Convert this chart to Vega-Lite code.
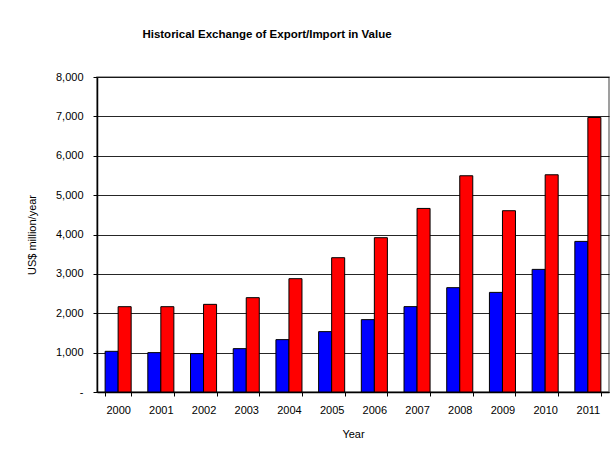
{
  "$schema": "https://vega.github.io/schema/vega-lite/v6.json",
  "width": 512,
  "height": 315,
  "autosize": {"type": "none"},
  "padding": {"left": 97, "top": 77, "right": 2, "bottom": 60},
  "background": "white",
  "title": {
    "text": "Historical Exchange of Export/Import in Value",
    "anchor": "middle",
    "dx": -86,
    "offset": 31,
    "font": "Liberation Sans",
    "fontSize": 11.5,
    "fontWeight": "bold",
    "color": "black"
  },
  "data": {
    "values": [
      {"year": "2000", "type": "Export", "value": 1033},
      {"year": "2000", "type": "Import", "value": 2167},
      {"year": "2001", "type": "Export", "value": 1000},
      {"year": "2001", "type": "Import", "value": 2167},
      {"year": "2002", "type": "Export", "value": 975},
      {"year": "2002", "type": "Import", "value": 2226},
      {"year": "2003", "type": "Export", "value": 1101},
      {"year": "2003", "type": "Import", "value": 2396},
      {"year": "2004", "type": "Export", "value": 1330},
      {"year": "2004", "type": "Import", "value": 2878},
      {"year": "2005", "type": "Export", "value": 1533},
      {"year": "2005", "type": "Import", "value": 3411},
      {"year": "2006", "type": "Export", "value": 1838},
      {"year": "2006", "type": "Import", "value": 3919},
      {"year": "2007", "type": "Export", "value": 2168},
      {"year": "2007", "type": "Import", "value": 4662},
      {"year": "2008", "type": "Export", "value": 2650},
      {"year": "2008", "type": "Import", "value": 5492},
      {"year": "2009", "type": "Export", "value": 2530},
      {"year": "2009", "type": "Import", "value": 4604},
      {"year": "2010", "type": "Export", "value": 3114},
      {"year": "2010", "type": "Import", "value": 5517},
      {"year": "2011", "type": "Export", "value": 3825},
      {"year": "2011", "type": "Import", "value": 6972}
    ]
  },
  "mark": {"type": "bar", "stroke": "black", "strokeWidth": 1},
  "encoding": {
    "x": {
      "field": "year",
      "type": "nominal",
      "title": "Year",
      "scale": {"paddingInner": 0.39, "paddingOuter": 0.19},
      "axis": {
        "labelAngle": 0,
        "labelFont": "Liberation Sans",
        "labelFontSize": 11,
        "labelColor": "black",
        "labelPadding": 8,
        "titleFont": "Liberation Sans",
        "titleFontSize": 11,
        "titleFontWeight": "normal",
        "titleColor": "black",
        "titlePadding": 13,
        "domainColor": "black",
        "domainWidth": 1.5,
        "tickColor": "black",
        "tickSize": 4,
        "tickBand": "extent",
        "grid": false
      }
    },
    "xOffset": {"field": "type", "type": "nominal", "scale": {"paddingInner": 0, "paddingOuter": 0}},
    "y": {
      "field": "value",
      "type": "quantitative",
      "title": "US$ million/year",
      "scale": {"domain": [0, 8000], "nice": false},
      "axis": {
        "values": [0, 1000, 2000, 3000, 4000, 5000, 6000, 7000, 8000],
        "labelExpr": "datum.value == 0 ? '-' : format(datum.value, ',')",
        "labelFont": "Liberation Sans",
        "labelFontSize": 11,
        "labelColor": "black",
        "labelPadding": 10,
        "titleFont": "Liberation Sans",
        "titleFontSize": 11,
        "titleFontWeight": "normal",
        "titleColor": "black",
        "titlePadding": 18,
        "domainColor": "black",
        "domainWidth": 1.5,
        "tickColor": "black",
        "tickSize": 4,
        "grid": true,
        "gridColor": "black",
        "gridWidth": 1,
        "gridOpacity": 0.85
      }
    },
    "color": {
      "field": "type",
      "type": "nominal",
      "scale": {"domain": ["Export", "Import"], "range": ["#0000FF", "#FF0000"]},
      "legend": null
    }
  },
  "config": {
    "view": {"stroke": "#808080", "strokeWidth": 1.5},
    "font": "Liberation Sans"
  }
}
